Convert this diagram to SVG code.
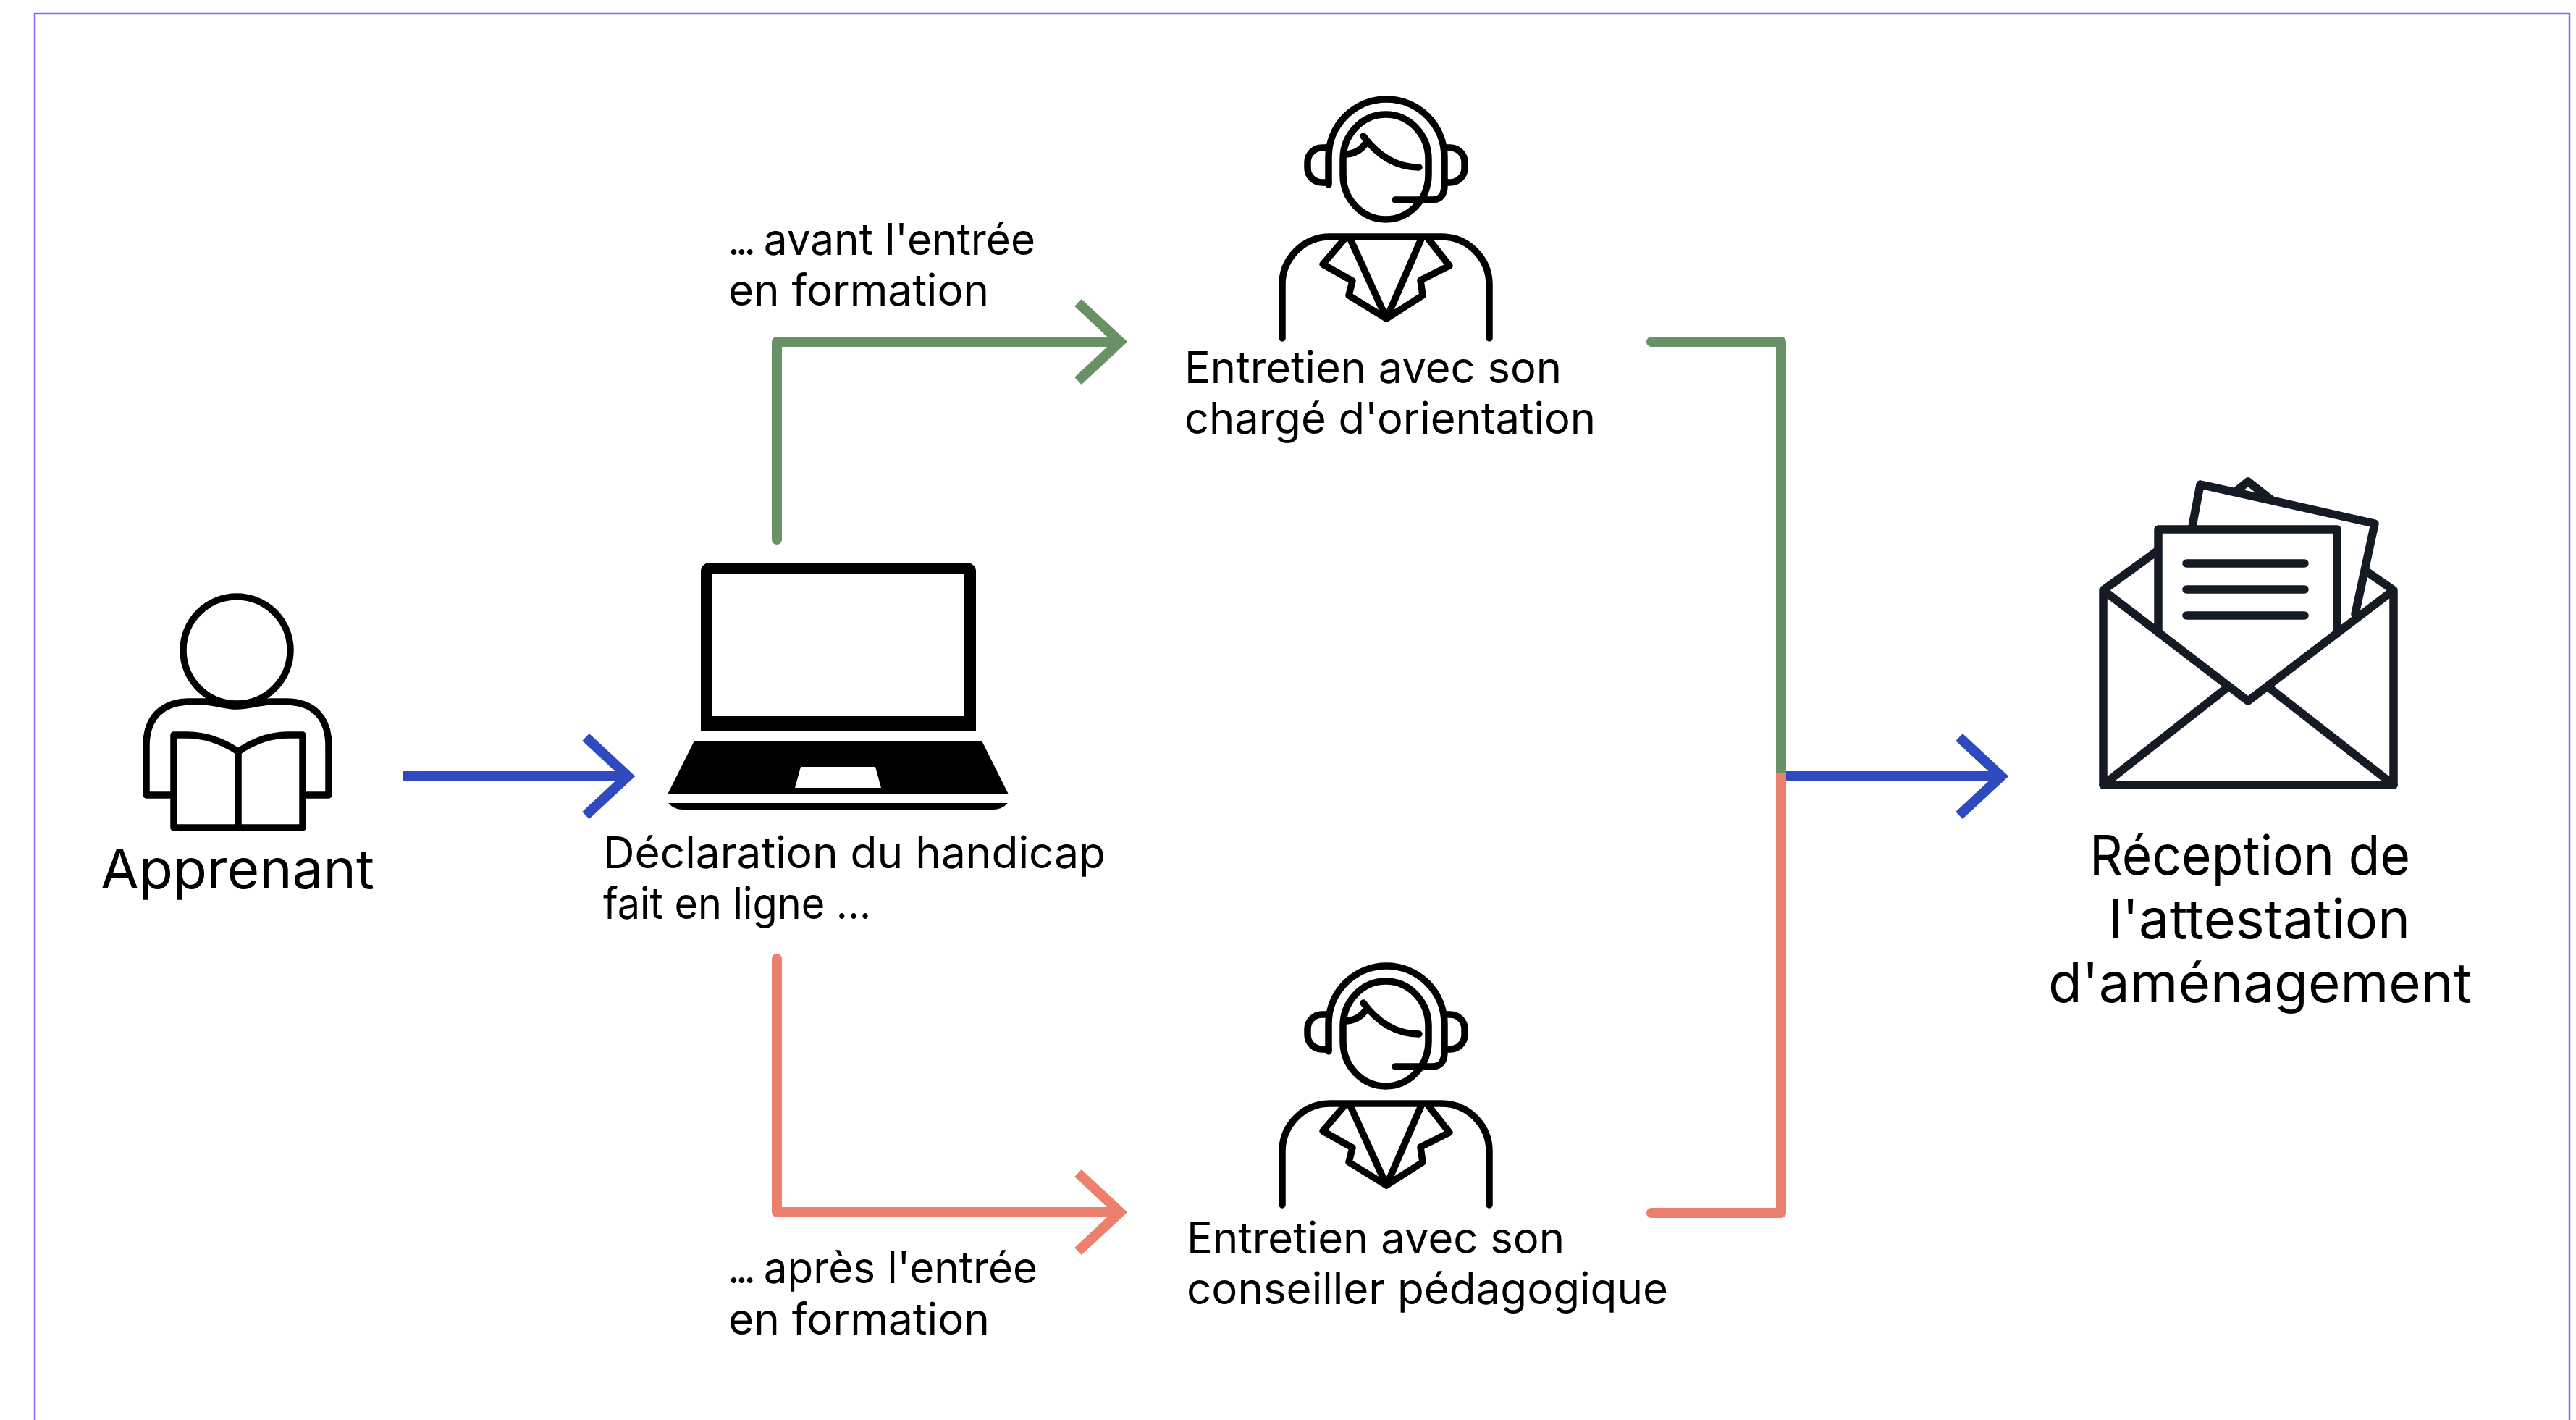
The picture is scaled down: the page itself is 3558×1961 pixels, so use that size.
<svg xmlns="http://www.w3.org/2000/svg" xmlns:xlink="http://www.w3.org/1999/xlink" width="3558" height="1961" viewBox="0 0 3558 1961">
<style>
text{font-family:"Inter","Liberation Sans",sans-serif;fill:#000;font-size:61px}
.big{font-size:76px}
.d{letter-spacing:-6px}
.ico{fill:none;stroke:#000;stroke-width:9.5;stroke-linecap:round;stroke-linejoin:round}
.env{fill:none;stroke:#141b24;stroke-width:11.5;stroke-linecap:round;stroke-linejoin:round}
.c{fill:none;stroke-width:14;stroke-linejoin:round;stroke-linecap:round}
.h{fill:none;stroke-width:14;stroke-linejoin:miter;stroke-miterlimit:6;stroke-linecap:butt}
.g{stroke:#6a9068}.s{stroke:#ec7f6e}.b{stroke:#2f4abf}
</style>
<defs>
<g id="agent" class="ico">
<path d="M1835,255V217A80,80 0 0 1 1995,217V256Q1995,276 1978,276H1927"/>
<path d="M1835,204H1826A20,20 0 0 0 1806,224V232A20,20 0 0 0 1826,252H1835"/>
<path d="M1997,204H2003A20,20 0 0 1 2023,224V232A20,20 0 0 1 2003,252H1997"/>
<path d="M1855,220A59,62 0 0 1 1973,220V241A59,62 0 0 1 1855,241Z"/>
<path d="M1883,188Q1915,231 1960,231"/>
<path d="M1857,213Q1876,213 1887,197"/>
<path d="M1771,467V393A66,66 0 0 1 1837,327H1991A66,66 0 0 1 2057,393V467"/>
<path d="M1857,330L1827,365L1868,388L1863,408L1915,440L1965,408L1962,387L2002,367L1973,330"/>
<path d="M1865,330L1915,440L1963,330"/>
</g>
</defs>
<rect width="3558" height="1961" fill="#fff"/>
<rect x="48" y="19" width="3501" height="1990" fill="none" stroke="#8b62f5" stroke-width="2.5"/>
<g id="connectors">
<path class="c g" d="M1073,745V472H1540"/>
<path class="h g" d="M1489,418L1547,472L1489,526"/>
<path class="c s" d="M1073,1324V1674H1540"/>
<path class="h s" d="M1489,1620L1547,1674L1489,1728"/>
<path class="h b" d="M557,1072H860"/>
<path class="h b" d="M809,1018L867,1072L809,1126"/>
<path class="c g" d="M2281,472H2460V1067" style="stroke-linecap:butt"/>
<path d="M2281,465a7,7 0 0 0 0,14z" fill="#6a9068"/>
<path class="c s" d="M2281,1675H2460V1067" style="stroke-linecap:butt"/>
<path d="M2281,1668a7,7 0 0 0 0,14z" fill="#ec7f6e"/>
<path class="h b" d="M2467,1072H2756"/>
<path class="h b" d="M2706,1018L2764,1072L2706,1126"/>
</g>
<g id="apprenant">
<g class="ico">
<circle cx="327" cy="898" r="74"/>
<path d="M237,1098H202V1030C202,990 225,969 262,969H283C300,970 310,975 327,975C344,975 355,970 373,969H395C432,969 454,990 454,1030V1098H422"/>
<path d="M329,1038C305,1022 280,1015 258,1015H240V1143H418V1015H398C375,1015 352,1022 329,1038ZV1143"/>
</g>
<text class="big" x="139" y="1227" textLength="378" lengthAdjust="spacingAndGlyphs">Apprenant</text>
</g>
<g id="declaration">
<path fill-rule="evenodd" d="M980,777H1336A12,12 0 0 1 1348,789V1009H968V789A12,12 0 0 1 980,777ZM983,793V989H1332V793Z"/>
<path fill-rule="evenodd" d="M959,1023H1356L1393,1097H922ZM1106,1059L1098,1088H1217L1209,1059Z"/>
<path d="M923,1109H1392Q1384,1118 1372,1118H943Q931,1118 923,1109Z"/>
<text x="833" y="1199" textLength="694" lengthAdjust="spacingAndGlyphs">Déclaration du handicap</text>
<text x="833" y="1269" textLength="370" lengthAdjust="spacingAndGlyphs">fait en ligne ...</text>
</g>
<g id="label-avant">
<text x="1005" y="352" textLength="425" lengthAdjust="spacingAndGlyphs"><tspan class="d">...</tspan> avant l'entrée</text>
<text x="1006" y="422" textLength="360" lengthAdjust="spacingAndGlyphs">en formation</text>
</g>
<g id="label-apres">
<text x="1005" y="1772" textLength="428" lengthAdjust="spacingAndGlyphs"><tspan class="d">...</tspan> après l'entrée</text>
<text x="1006" y="1843" textLength="361" lengthAdjust="spacingAndGlyphs">en formation</text>
</g>
<g id="charge-orientation">
<use href="#agent" xlink:href="#agent"/>
<text x="1636" y="529" textLength="521" lengthAdjust="spacingAndGlyphs">Entretien avec son</text>
<text x="1636" y="599" textLength="568" lengthAdjust="spacingAndGlyphs">chargé d'orientation</text>
</g>
<g id="conseiller-pedagogique">
<use href="#agent" xlink:href="#agent" y="1197"/>
<text x="1639" y="1731" textLength="522" lengthAdjust="spacingAndGlyphs">Entretien avec son</text>
<text x="1639" y="1801" textLength="665" lengthAdjust="spacingAndGlyphs">conseiller pédagogique</text>
</g>
<g id="attestation">
<g class="env">
<path d="M3090,677L3105,665L3137,690"/>
<path d="M3028,727L3039,669L3280,723L3253,848"/>
<path d="M2981,870V731H3228V870"/>
<path d="M3020,778H3183M3020,814H3183M3020,850H3183"/>
<path d="M2905,815V1084H3306V815L3105,968L2905,815L2978,762M3270,790L3306,815"/>
<path d="M2905,1084L3073,952M3306,1084L3137,952"/>
</g>
<text class="big" x="2886" y="1208" textLength="443" lengthAdjust="spacingAndGlyphs">Réception de</text>
<text class="big" x="2913" y="1296" textLength="416" lengthAdjust="spacingAndGlyphs">l'attestation</text>
<text class="big" x="2829" y="1384" textLength="585" lengthAdjust="spacingAndGlyphs">d'aménagement</text>
</g>
</svg>
